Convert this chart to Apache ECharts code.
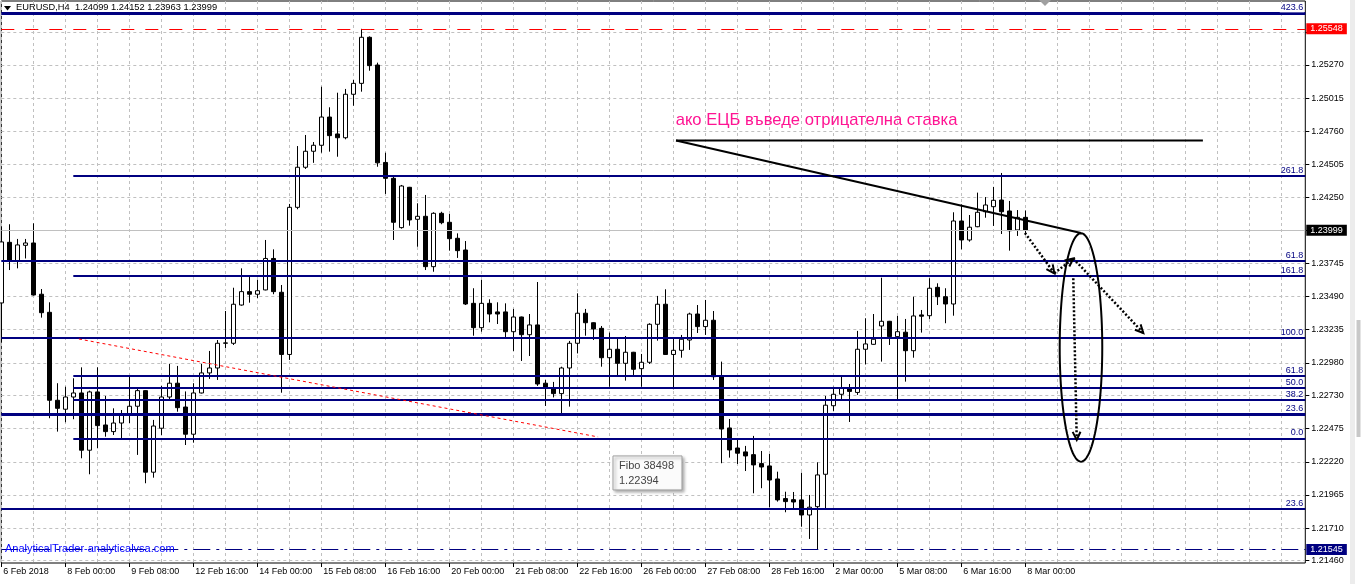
<!DOCTYPE html>
<html><head><meta charset="utf-8">
<script src="https://cdn.jsdelivr.net/npm/echarts@6/dist/echarts.min.js"></script>
<style>html,body{margin:0;padding:0;background:#fff;overflow:hidden}#c{width:1362px;height:584px}</style>
</head><body><div id="c"></div>
<script>
// ---- data (EURUSD H4) ----
const opens = [1.23441,1.23907,1.23764,1.23884,1.23902,1.23508,1.23369,1.22693,1.22624,1.22718,1.22749,1.22309,1.22757,1.22503,1.22452,1.22518,1.22580,1.22647,1.22767,1.22140,1.22478,1.22718,1.22824,1.22641,1.22432,1.22749,1.22903,1.22941,1.23131,1.23131,1.23425,1.23528,1.23508,1.23541,1.23783,1.23523,1.23045,1.24176,1.24484,1.24607,1.24653,1.24870,1.24740,1.24711,1.25045,1.25129,1.25483,1.25270,1.24521,1.24399,1.24020,1.24330,1.24084,1.24107,1.23720,1.24130,1.24061,1.23938,1.23848,1.23438,1.23251,1.23438,1.23372,1.23372,1.23220,1.23333,1.23197,1.23272,1.22824,1.22785,1.22744,1.22941,1.23131,1.23362,1.23289,1.23246,1.23020,1.23085,1.22977,1.23062,1.22936,1.22985,1.23277,1.23431,1.23045,1.23077,1.23156,1.23356,1.23259,1.23308,1.22877,1.22480,1.22326,1.22296,1.22275,1.22206,1.22188,1.22088,1.21937,1.21929,1.21927,1.21811,1.21875,1.22124,1.22651,1.22739,1.22790,1.22753,1.23085,1.23123,1.23264,1.23300,1.23182,1.23216,1.23074,1.23349,1.23343,1.23561,1.23489,1.23433,1.24071,1.23925,1.24027,1.24142,1.24181,1.24232,1.24148,1.24002,1.24099];
const highs = [1.24025,1.24046,1.23933,1.23933,1.24053,1.23548,1.23446,1.22824,1.22797,1.22862,1.22946,1.22767,1.22946,1.22726,1.22631,1.22618,1.22874,1.22785,1.22770,1.22542,1.22803,1.22972,1.22957,1.22761,1.22824,1.22972,1.23072,1.23156,1.23379,1.23558,1.23707,1.23651,1.23618,1.23925,1.23853,1.23579,1.24202,1.24647,1.24732,1.24678,1.25103,1.24945,1.25057,1.25086,1.25155,1.25548,1.25490,1.25288,1.24596,1.24412,1.24348,1.24333,1.24207,1.24271,1.24138,1.24142,1.24125,1.23976,1.23917,1.23554,1.23618,1.23469,1.23446,1.23438,1.23395,1.23336,1.23356,1.23602,1.22849,1.22834,1.22951,1.23149,1.23515,1.23395,1.23292,1.23264,1.23213,1.23169,1.23187,1.23065,1.23049,1.23285,1.23495,1.23546,1.23169,1.23195,1.23366,1.23425,1.23464,1.23379,1.22990,1.22549,1.22388,1.22342,1.22419,1.22303,1.22280,1.22144,1.21990,1.21988,1.22136,1.21965,1.22216,1.22726,1.22797,1.22874,1.22818,1.23226,1.23323,1.23356,1.23635,1.23303,1.23341,1.23318,1.23489,1.23387,1.23631,1.23592,1.23554,1.24138,1.24199,1.24117,1.24289,1.24255,1.24333,1.24440,1.24225,1.24155,1.24152];
const lows = [1.23141,1.23694,1.23707,1.23783,1.23498,1.23328,1.22555,1.22452,1.22524,1.22547,1.22247,1.22124,1.22324,1.22413,1.22426,1.22401,1.22518,1.22273,1.22055,1.22098,1.22426,1.22701,1.22605,1.22349,1.22367,1.22745,1.22857,1.22849,1.23093,1.23118,1.23420,1.23443,1.23477,1.23538,1.23508,1.22751,1.23003,1.24161,1.24471,1.24518,1.24596,1.24604,1.24565,1.24699,1.24957,1.25065,1.25226,1.24488,1.24279,1.23925,1.24012,1.24035,1.23873,1.23694,1.23681,1.24046,1.23843,1.23787,1.23425,1.23189,1.23220,1.23292,1.23279,1.23169,1.23072,1.22995,1.23033,1.22803,1.22649,1.22715,1.22593,1.22644,1.23053,1.23189,1.23156,1.22951,1.22797,1.22887,1.22844,1.22887,1.22797,1.22972,1.23151,1.23042,1.22777,1.23020,1.23080,1.23210,1.23195,1.22849,1.22209,1.22252,1.22203,1.22149,1.21978,1.22017,1.21871,1.21914,1.21832,1.21863,1.21721,1.21627,1.21545,1.21863,1.22611,1.22695,1.22526,1.22734,1.22968,1.23120,1.22990,1.23118,1.22701,1.22836,1.23020,1.23213,1.23318,1.23425,1.23285,1.23343,1.23853,1.23912,1.24023,1.24096,1.24033,1.23971,1.23843,1.23956,1.23963];
const closes = [1.23910,1.23764,1.23887,1.23902,1.23502,1.23366,1.22693,1.22631,1.22718,1.22749,1.22309,1.22757,1.22498,1.22452,1.22518,1.22580,1.22647,1.22767,1.22140,1.22495,1.22718,1.22824,1.22636,1.22432,1.22749,1.22903,1.22941,1.23131,1.23134,1.23431,1.23528,1.23508,1.23535,1.23783,1.23528,1.23045,1.24176,1.24484,1.24607,1.24653,1.24870,1.24727,1.24711,1.25045,1.25129,1.25483,1.25265,1.24518,1.24399,1.24061,1.24340,1.24079,1.24107,1.23720,1.24130,1.24058,1.23935,1.23843,1.23433,1.23251,1.23438,1.23356,1.23356,1.23220,1.23333,1.23197,1.23272,1.22818,1.22785,1.22744,1.22941,1.23131,1.23362,1.23289,1.23241,1.23020,1.23085,1.22977,1.23062,1.22931,1.22985,1.23277,1.23431,1.23045,1.23077,1.23162,1.23356,1.23259,1.23308,1.22874,1.22472,1.22311,1.22286,1.22265,1.22196,1.22180,1.22080,1.21927,1.21914,1.21911,1.21811,1.21871,1.22119,1.22655,1.22739,1.22791,1.22761,1.23085,1.23126,1.23162,1.23300,1.23182,1.23220,1.23074,1.23341,1.23339,1.23554,1.23489,1.23433,1.24071,1.23925,1.24023,1.24138,1.24194,1.24230,1.24142,1.23996,1.24099,1.23999];

const tickLabels = ['6 Feb 2018','8 Feb 00:00','9 Feb 08:00','12 Feb 16:00','14 Feb 00:00','15 Feb 08:00','16 Feb 16:00','20 Feb 00:00','21 Feb 08:00','22 Feb 16:00','26 Feb 00:00','27 Feb 08:00','28 Feb 16:00','2 Mar 00:00','5 Mar 08:00','6 Mar 16:00','8 Mar 00:00'];
const priceTicks = [1.21460,1.21710,1.21965,1.22220,1.22475,1.22730,1.22980,1.23235,1.23490,1.23745,1.24000,1.24250,1.24505,1.24760,1.25015,1.25270,1.25525];
const hiddenTicks = [1.24000,1.25525];
const yMin = 1.21442, yMax = 1.25762;
const totalSlots = 164;   // bars + right shift space
const labelStep = 8, gridStep = 4;

// fibonacci levels: [price, label, fromIndex, width]
const fibLevels = [
  [1.25667,'423.6',0,3],
  [1.24419,'261.8',9,2],
  [1.23766,'61.8',0,2],
  [1.23648,'161.8',9,2],
  [1.23174,'100.0',0,2],
  [1.22880,'61.8',9,2],
  [1.22790,'50.0',9,2],
  [1.22698,'38.2',9,2],
  [1.22584,'23.6',0,3],
  [1.22400,'0.0',9,2],
  [1.21860,'23.6',0,2]
];
const highLine = 1.25548, bidLine = 1.23999, lowLine = 1.21545;

// annotations [barIndex, price]
const noteText = 'ако ЕЦБ въведе отрицателна ставка';
const notePos = [84.3, 1.24847];
const hLine = [[84.34,1.24690],[150.2,1.24690]];
const trendLine = [[84.34,1.24690],[134.96,1.23979]];
const ellipseC = [134.96,1.23099], ellipseR = [2.66,0.00878];
const arrows = [
  [[127.96,1.23979],[131.63,1.23669]],
  [[131.63,1.23669],[134.0,1.23783]],
  [[134.0,1.23783],[142.75,1.23210]],
  [[134.0,1.23631],[134.43,1.22388]]
];
const redDotted = [[9.7,1.23164],[74.6,1.22411]];
const tipAt = [76.46,1.22265], tipLines = ['Fibo 38498','1.22394'];

const FONT = 'Liberation Sans';
const categories = Array.from({length: totalSlots}, (_, i) => String(i));
const candles = opens.map((o, i) => [o, closes[i], lows[i], highs[i]]);
const lastIdx = opens.length - 1;

const markData = [];
fibLevels.forEach(f => {
  markData.push([
    {coord:[f[2], f[0]], lineStyle:{color:'#000080', width:f[3], type:'solid'},
     label:{show:true, position:'insideEndTop', formatter:f[1], color:'#000080', fontSize:9, fontFamily:FONT, distance:1,
            backgroundColor: f[1]==='423.6' ? '#fff' : 'transparent', padding:[0,1,0,1]}},
    {coord:[totalSlots-1, f[0]]}
  ]);
});
function priceMark(p, lineColor, lineType, bg) {
  return [
    {coord:[0, p], lineStyle:{color:lineColor, width:1, type:lineType},
     label:{show:true, position:'end', formatter:p.toFixed(5), color:'#fff', backgroundColor:bg, fontSize:9, fontFamily:FONT,
            padding:[1,4,0,4], lineHeight:10, distance:1}},
    {coord:[totalSlots-1, p]}
  ];
}
markData.push(priceMark(highLine, '#ff0000', [13,11], '#ff0000'));
markData.push(priceMark(bidLine, '#c0c0c0', 'solid', '#000000'));
markData.push(priceMark(lowLine, '#000080', [17,6,3,6], '#000080'));

function renderNotes(params, api) {
  const C = (idx, p) => {
    const a = api.coord([0, p]), b = api.coord([1, p]);
    return [a[0] + (b[0] - a[0]) * idx, a[1]];
  };
  const kids = [];
  const seg = (pts, style) => kids.push({type:'polyline', shape:{points:pts}, style:Object.assign({fill:null}, style), silent:true});
  const head = (p1, p2) => {
    const a = Math.atan2(p2[1]-p1[1], p2[0]-p1[0]), L = 9, g = 0.45;
    return [[p2[0]-L*Math.cos(a-g), p2[1]-L*Math.sin(a-g)], p2, [p2[0]-L*Math.cos(a+g), p2[1]-L*Math.sin(a+g)]];
  };
  seg(redDotted.map(q => C(q[0], q[1])), {stroke:'#ff0000', lineWidth:1, lineDash:[3,3]});
  seg(hLine.map(q => C(q[0], q[1])), {stroke:'#000', lineWidth:2});
  seg(trendLine.map(q => C(q[0], q[1])), {stroke:'#000', lineWidth:2});
  const c = C(ellipseC[0], ellipseC[1]);
  const rx = C(ellipseC[0] + ellipseR[0], ellipseC[1])[0] - c[0];
  const ry = c[1] - C(ellipseC[0], ellipseC[1] + ellipseR[1])[1];
  const ep = [];
  for (let k = 0; k <= 96; k++) { const t = k / 96 * Math.PI * 2; ep.push([c[0] + rx * Math.cos(t), c[1] + ry * Math.sin(t)]); }
  seg(ep, {stroke:'#000', lineWidth:2});
  arrows.forEach(a => {
    const p1 = C(a[0][0], a[0][1]), p2 = C(a[1][0], a[1][1]);
    seg([p1, p2], {stroke:'#000', lineWidth:2.5, lineDash:[2,2]});
    seg(head(p1, p2), {stroke:'#000', lineWidth:2});
  });
  const np = C(notePos[0], notePos[1]);
  kids.push({type:'text', x:np[0], y:np[1], silent:true,
    style:{text:noteText, fill:'#ff1493', font:'16.6px "' + FONT + '"', verticalAlign:'middle', align:'left'}});
  const tp = C(tipAt[0], tipAt[1]);
  kids.push({type:'rect', shape:{x:tp[0], y:tp[1], width:69, height:34}, silent:true,
    style:{fill:'#fbfbfb', stroke:'#a0a0a0', lineWidth:1, shadowBlur:3, shadowColor:'rgba(0,0,0,0.35)', shadowOffsetX:2, shadowOffsetY:2}});
  tipLines.forEach((t, i) => kids.push({type:'text', x:tp[0] + 6, y:tp[1] + 10 + i * 15, silent:true,
    style:{text:t, fill:'#444', font:'11px "' + FONT + '"', verticalAlign:'middle'}}));
  return {type:'group', children:kids};
}

const chart = echarts.init(document.getElementById('c'), null, {renderer:'canvas'});
chart.setOption({
  animation:false,
  backgroundColor:'#fff',
  grid:{left:1.3, right:56.7, top:1, bottom:21, show:true, borderColor:'#000', borderWidth:1, backgroundColor:'transparent', containLabel:false},
  xAxis:{
    type:'category', data:categories, boundaryGap:false,
    axisLine:{show:false},
    axisTick:{show:true, interval:i => i % labelStep === 0 && i <= lastIdx, length:4, lineStyle:{color:'#000'}},
    axisLabel:{show:true, interval:i => i % labelStep === 0 && i <= lastIdx,
      formatter:(v, i) => tickLabels[i / labelStep] || '', align:'left', margin:4,
      fontSize:9, fontFamily:FONT, color:'#000', padding:[0,0,0,2]},
    splitLine:{show:true, interval:i => i % gridStep === 0, lineStyle:{color:'#c0c0c0', width:1, type:[3,3]}}
  },
  yAxis:{
    type:'value', position:'right', min:yMin, max:yMax, scale:true,
    axisLine:{show:false},
    axisTick:{show:true, customValues:priceTicks, length:4, lineStyle:{color:'#000'}},
    axisLabel:{show:true, customValues:priceTicks, margin:6, fontSize:9, fontFamily:FONT, color:'#000',
      formatter:v => hiddenTicks.some(h => Math.abs(h - v) < 1e-7) ? '' : v.toFixed(5)},
    splitLine:{show:true, lineStyle:{color:'#c0c0c0', width:1, type:[3,3]}}
  },
  series:[
    {
      type:'candlestick', data:candles, barWidth:4,
      itemStyle:{color:'#ffffff', color0:'#000000', borderColor:'#000000', borderColor0:'#000000', borderWidth:1},
      markLine:{silent:true, symbol:['none','none'], animation:false, data:markData}
    },
    {
      type:'custom', data:[[0, bidLine]], renderItem:renderNotes, silent:true, z:5, clip:false
    }
  ],
  graphic:[
    {type:'polygon', shape:{points:[[4,6],[11,6],[7.5,10.5]]}, style:{fill:'#000'}, z:100},
    {type:'text', left:16, top:3, style:{text:'EURUSD,H4  1.24099 1.24152 1.23963 1.23999', font:'9.3px "' + FONT + '"', fill:'#000'}, z:100},
    {type:'polygon', shape:{points:[[1039,0],[1051,0],[1045,6]]}, style:{fill:'#a0a0a0'}, z:100},
    {type:'text', left:5, top:543, style:{text:'AnalyticalTrader-analyticalvsa.com', font:'11px "' + FONT + '"', fill:'#0000ff'}, z:100},
    {type:'rect', shape:{x:1350, y:0, width:5, height:584}, style:{fill:'#ececec'}, z:100},
    {type:'rect', shape:{x:1356.5, y:320, width:4, height:117}, style:{fill:'#c8c8c8'}, z:100}
  ]
});
</script>
</body></html>
